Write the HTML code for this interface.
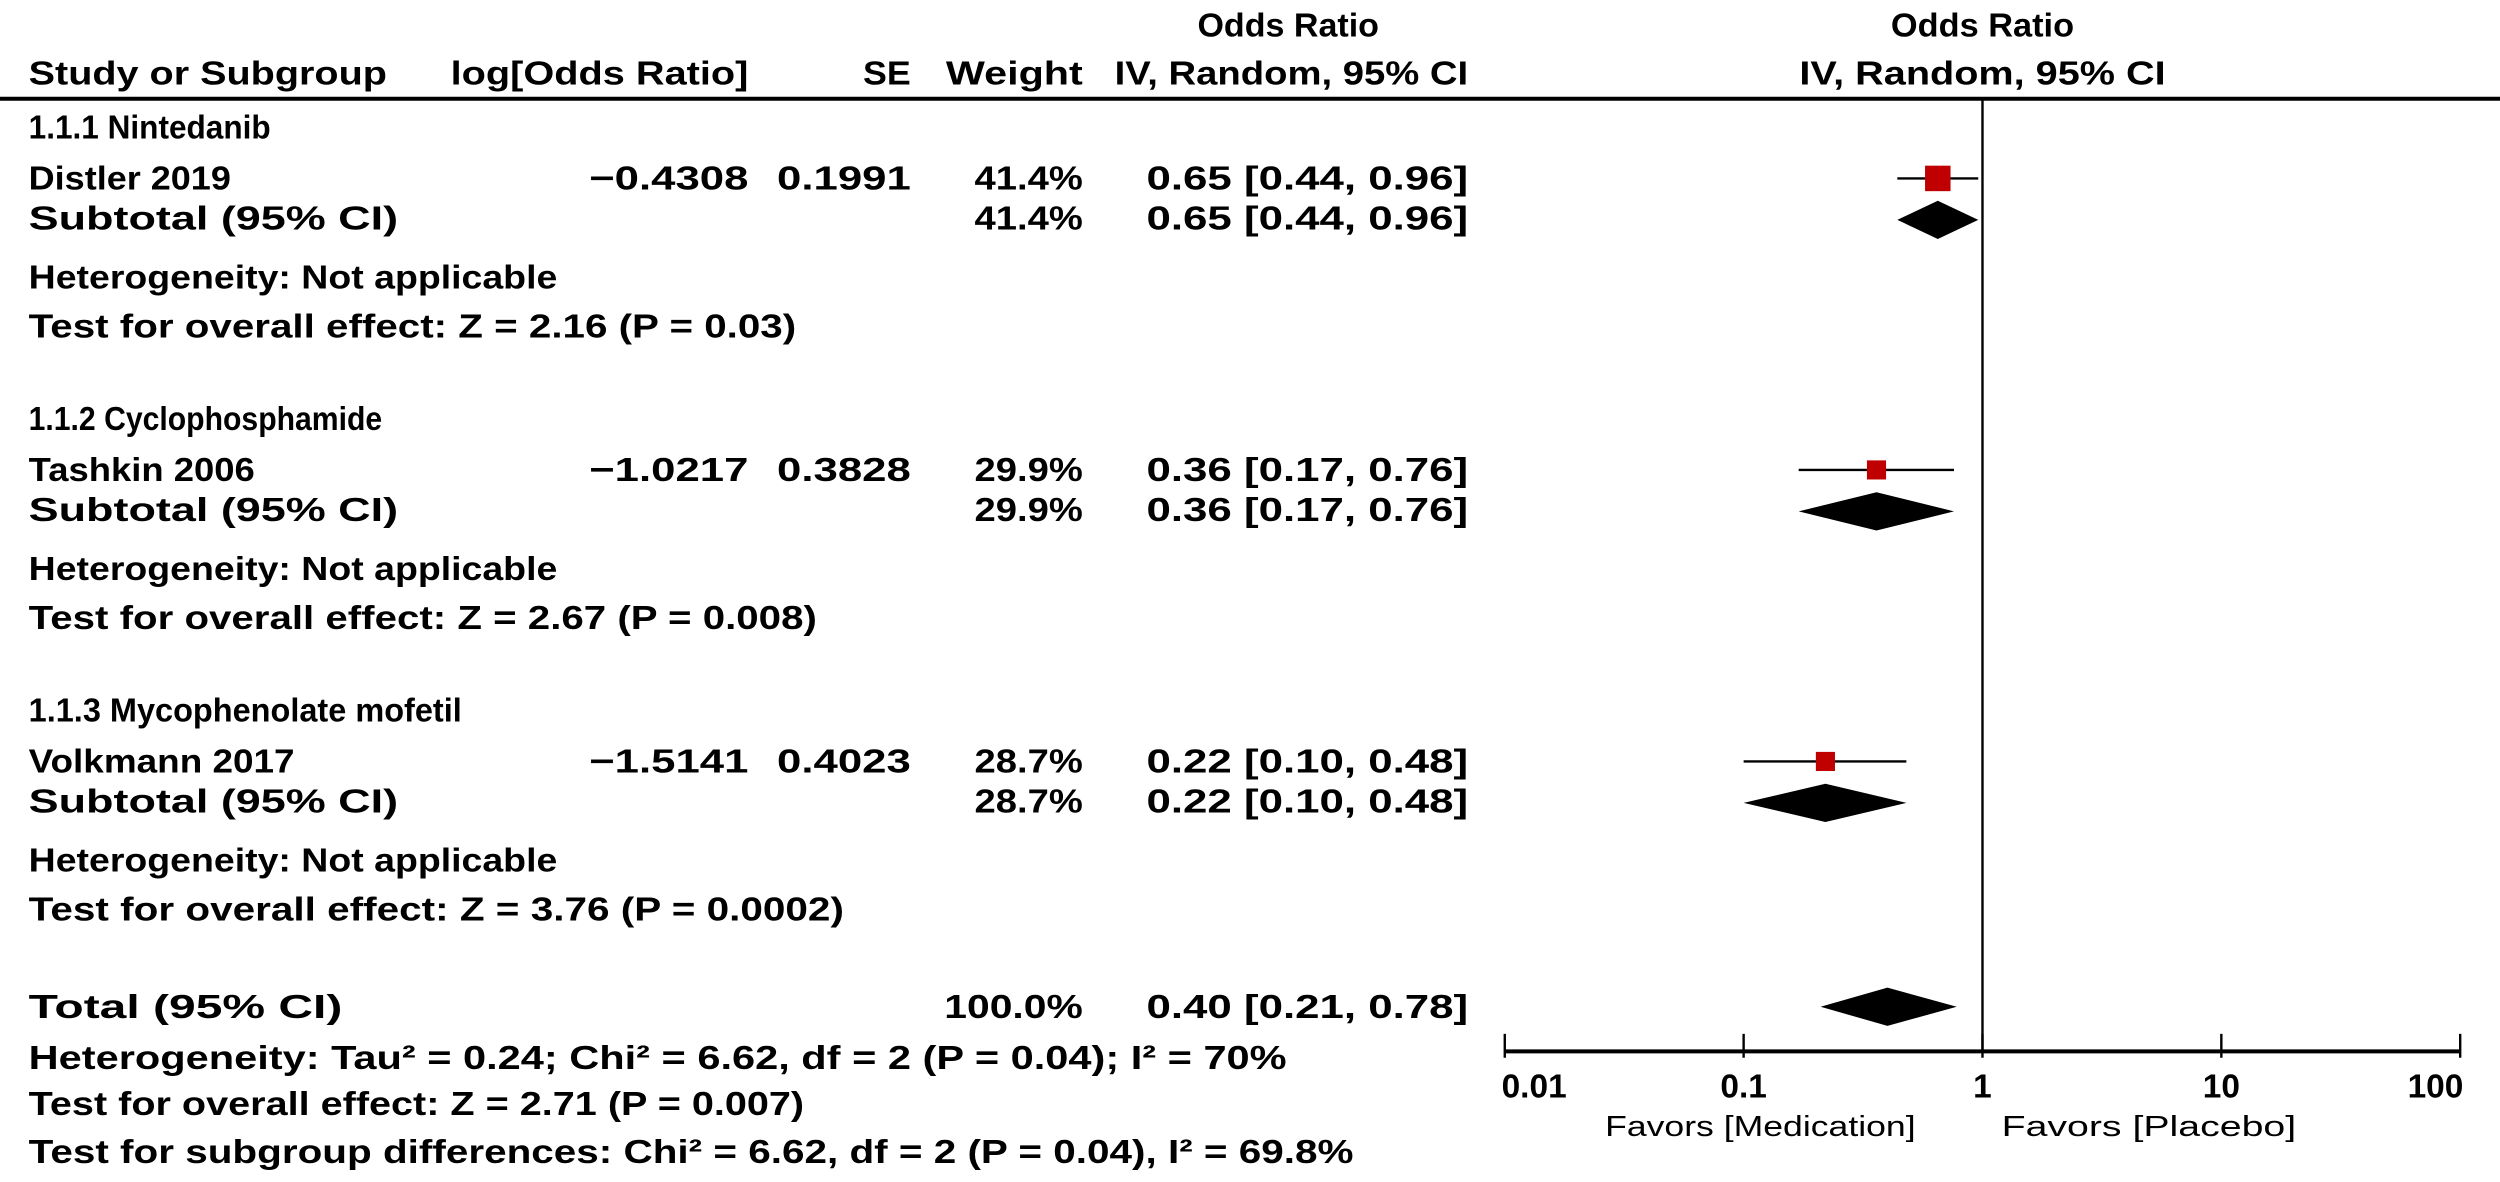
<!DOCTYPE html>
<html><head><meta charset="utf-8"><style>
html,body{margin:0;padding:0;background:#fff;}
svg{display:block}
text{font-family:"Liberation Sans",sans-serif;font-weight:bold;font-size:21px;fill:#000}
.n{font-weight:normal;font-size:18px}
.tk{font-size:21px}
</style></head><body>
<svg id="plot" width="2500" height="1182" viewBox="0 0 1570 742" preserveAspectRatio="none" xmlns="http://www.w3.org/2000/svg">
<g>
<text x="809" y="23" text-anchor="middle" textLength="114" lengthAdjust="spacingAndGlyphs">Odds Ratio</text>
<text x="1245" y="23" text-anchor="middle" textLength="115" lengthAdjust="spacingAndGlyphs">Odds Ratio</text>
<text x="18" y="53" textLength="225" lengthAdjust="spacingAndGlyphs">Study or Subgroup</text>
<text x="283" y="53" textLength="187" lengthAdjust="spacingAndGlyphs">log[Odds Ratio]</text>
<text x="572" y="53" text-anchor="end" textLength="30" lengthAdjust="spacingAndGlyphs">SE</text>
<text x="594" y="53" textLength="86" lengthAdjust="spacingAndGlyphs">Weight</text>
<text x="700" y="53" textLength="222" lengthAdjust="spacingAndGlyphs">IV, Random, 95% CI</text>
<text x="1130" y="53" textLength="230" lengthAdjust="spacingAndGlyphs">IV, Random, 95% CI</text>
</g>
<line x1="0" y1="62" x2="1570" y2="62" stroke="#000" stroke-width="2.5"/>
<g id="rows"></g>
<g id="marks"></g>
</svg>
<script>
var studyNames = ["Distler 2019","Tashkin 2006","Volkmann 2017"];
var groupNames = ["1.1.1 Nintedanib","1.1.2 Cyclophosphamide","1.1.3 Mycophenolate mofetil"];
var logOR = ["\u22120.4308","\u22121.0217","\u22121.5141"];
var seVals = ["0.1991","0.3828","0.4023"];
var weights = ["41.4%","29.9%","28.7%"];
var orVals = [0.65,0.36,0.22];
var ciLow = [0.44,0.17,0.10];
var ciHigh = [0.96,0.76,0.48];
var zText = ["Z = 2.16 (P = 0.03)","Z = 2.67 (P = 0.008)","Z = 3.76 (P = 0.0002)"];
var totalOR = 0.40, totalLow = 0.21, totalHigh = 0.78;
var tickVals = [0.01,0.1,1,10,100];
var tickLabels = ["0.01","0.1","1","10","100"];

var NS="http://www.w3.org/2000/svg";
var rows=document.getElementById('rows'), marks=document.getElementById('marks');
function xs(v){return 1245+150*Math.log10(v);}
function fmt(v){return v.toFixed(2);}
function t(parent,x,y,s,anchor,len,name,cls){
  var e=document.createElementNS(NS,'text');
  e.setAttribute('x',x);e.setAttribute('y',y);
  if(anchor)e.setAttribute('text-anchor',anchor);
  if(len){e.setAttribute('textLength',len);e.setAttribute('lengthAdjust','spacingAndGlyphs');}
  if(cls)e.setAttribute('class',cls);
  e.textContent=s;
  
  
  parent.appendChild(e);return e;
}
var groupLen=[152,222,272], studyLen=[127,142,167], testLen=[482,495,512];
var base=[87,270,453];
var studyOff=32, subOff=60, hetOff=94, testOff=125;
for(var i=0;i<3;i++){
  var b=base[i];
  t(rows,18,b,groupNames[i],null,groupLen[i],'subgroup-title');
  t(rows,18,b+studyOff,studyNames[i],null,studyLen[i],'study-name');
  t(rows,470,b+studyOff,logOR[i],'end',100,'log-odds-ratio');
  t(rows,572,b+studyOff,seVals[i],'end',84,'standard-error');
  t(rows,680,b+studyOff,weights[i],'end',68,'study-weight');
  t(rows,922,b+studyOff,fmt(orVals[i])+' ['+fmt(ciLow[i])+', '+fmt(ciHigh[i])+']','end',202,'study-odds-ratio');
  t(rows,18,b+subOff-3,'Subtotal (95% CI)',null,232,'subtotal-label');
  t(rows,680,b+subOff-3,weights[i],'end',68,'subtotal-weight');
  t(rows,922,b+subOff-3,fmt(orVals[i])+' ['+fmt(ciLow[i])+', '+fmt(ciHigh[i])+']','end',202,'subtotal-odds-ratio');
  t(rows,18,b+hetOff,'Heterogeneity: Not applicable',null,332,'heterogeneity-text');
  t(rows,18,b+testOff,'Test for overall effect: '+zText[i],null,testLen[i],'overall-effect-text');
}
t(rows,18,639,'Total (95% CI)',null,197,'total-label');
t(rows,680,639,'100.0%','end',87,'total-weight');
t(rows,922,639,fmt(totalOR)+' ['+fmt(totalLow)+', '+fmt(totalHigh)+']','end',202,'total-odds-ratio');
t(rows,18,671,'Heterogeneity: Tau\u00b2 = 0.24; Chi\u00b2 = 6.62, df = 2 (P = 0.04); I\u00b2 = 70%',null,790,'total-heterogeneity');
t(rows,18,700,'Test for overall effect: Z = 2.71 (P = 0.007)',null,487,'total-overall-effect');
t(rows,18,730,'Test for subgroup differences: Chi\u00b2 = 6.62, df = 2 (P = 0.04), I\u00b2 = 69.8%',null,832,'subgroup-differences');

function ln(x1,y1,x2,y2,w,name){
  var e=document.createElementNS(NS,'line');
  e.setAttribute('x1',x1);e.setAttribute('y1',y1);e.setAttribute('x2',x2);e.setAttribute('y2',y2);
  e.setAttribute('stroke','#000');e.setAttribute('stroke-width',w);
  
  
  marks.appendChild(e);
}
function diamond(v,lo,hi,y,name){
  var p=document.createElementNS(NS,'polygon');
  p.setAttribute('points',xs(lo)+','+y+' '+xs(v)+','+(y-12)+' '+xs(hi)+','+y+' '+xs(v)+','+(y+12));
  p.setAttribute('fill','#000');
  
  
  marks.appendChild(p);
}
ln(1245,62,1245,660,1.5,'null-effect-line');
var sqSize=[16,12,12];
for(var i=0;i<3;i++){
  var y=base[i]+studyOff-7;
  ln(xs(ciLow[i]),y,xs(ciHigh[i]),y,1.5,'study-ci-line');
  var r=document.createElementNS(NS,'rect');
  var s=sqSize[i];
  r.setAttribute('x',xs(orVals[i])-s/2);r.setAttribute('y',y-s/2);
  r.setAttribute('width',s);r.setAttribute('height',s);r.setAttribute('fill','#c00000');
  
  
  marks.appendChild(r);
  diamond(orVals[i],ciLow[i],ciHigh[i],base[i]+subOff-9,'subtotal-diamond');
}
diamond(totalOR,totalLow,totalHigh,632,'total-diamond');
ln(xs(0.01),660,xs(100),660,2.5,'x-axis-line');
for(var k=0;k<tickVals.length;k++){
  ln(xs(tickVals[k]),649,xs(tickVals[k]),664,1.5,'x-axis-tick');
  var a=k==0?'start':(k==tickVals.length-1?'end':'middle');
  var xx=xs(tickVals[k])+(k==0?-2:(k==tickVals.length-1?2:0));
  t(marks,xx,689,tickLabels[k],a,null,'x-tick-label','tk');
}
t(marks,1008,713,'Favors   [Medication]',null,195,'favors-medication-label','n').setAttribute('xml:space','preserve');
t(marks,1257,713,'Favors   [Placebo]',null,185,'favors-placebo-label','n');
</script>
</body></html>
